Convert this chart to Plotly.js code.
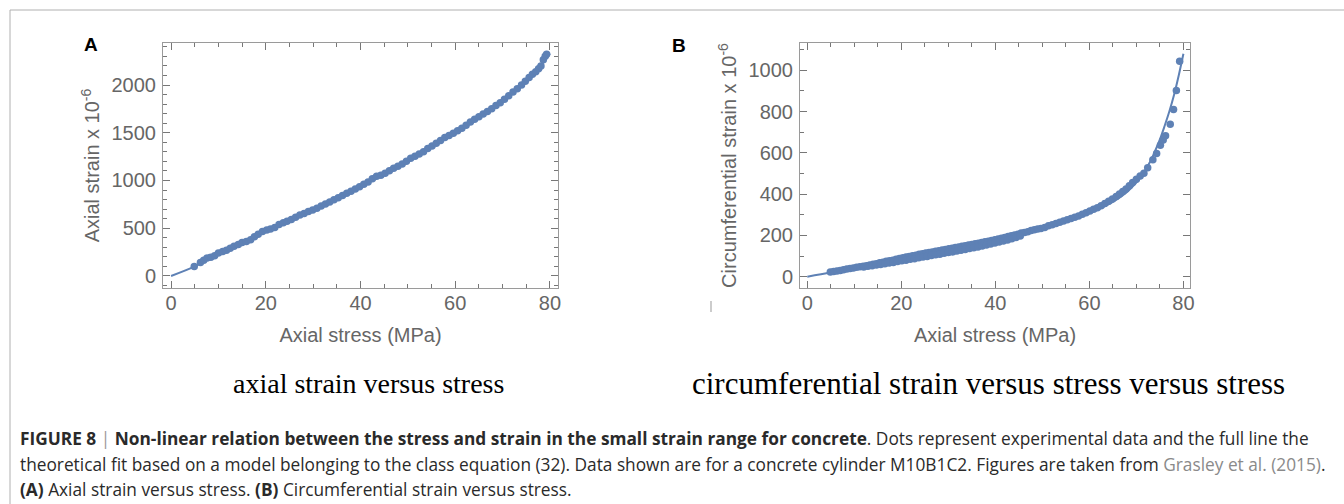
<!DOCTYPE html>
<html>
<head>
<meta charset="utf-8">
<script src="https://cdn.plot.ly/plotly-3.0.1.min.js"></script>
<style>html,body{margin:0;padding:0;background:#fff;}#chart{width:1344px;height:504px;}</style>
</head>
<body>
<div id="chart"></div>
<script>
// ---- Panel A: axial strain vs axial stress ----
const stressA = [4.9, 6.2, 6.9, 7.6, 8.4, 9.2, 10.0, 10.9, 11.7, 12.5, 13.3, 14.2, 15.0, 15.9, 16.8, 17.6, 18.4, 19.3, 20.2, 21.0, 21.9, 22.8, 23.7, 24.5, 25.4, 26.3, 27.2, 28.1, 29.0, 29.9, 30.8, 31.7, 32.6, 33.5, 34.4, 35.3, 36.2, 37.1, 38.0, 38.9, 39.8, 40.7, 41.6, 42.5, 43.4, 44.3, 45.2, 46.1, 47.0, 47.9, 48.8, 49.7, 50.6, 51.5, 52.4, 53.3, 54.2, 55.1, 56.0, 56.9, 57.8, 58.7, 59.6, 60.5, 61.4, 62.3, 63.2, 64.1, 65.0, 65.9, 66.8, 67.7, 68.6, 69.5, 70.4, 71.3, 72.2, 73.1, 74.0, 74.8, 75.6, 76.3, 77.0, 77.6, 78.1, 78.6, 79.0, 79.3];
const strainA = [98, 140, 165, 188, 196, 212, 240, 255, 270, 290, 310, 330, 350, 362, 380, 410, 438, 465, 482, 492, 508, 538, 558, 572, 592, 616, 639, 655, 674, 690, 708, 732, 754, 776, 798, 820, 843, 866, 888, 910, 934, 960, 985, 1018, 1045, 1055, 1075, 1102, 1128, 1150, 1172, 1202, 1232, 1255, 1278, 1302, 1335, 1362, 1390, 1420, 1450, 1470, 1494, 1520, 1548, 1578, 1612, 1642, 1668, 1696, 1722, 1752, 1785, 1815, 1850, 1888, 1926, 1962, 2000, 2040, 2078, 2112, 2140, 2170, 2200, 2265, 2300, 2321];
const fitStressA = [0, 5, 10, 15, 20, 25, 30, 35, 40, 45, 50, 55, 60, 65, 70, 75, 78, 80];
const fitStrainA = [0, 100, 235, 350, 475, 585, 700, 815, 935, 1065, 1210, 1360, 1505, 1665, 1840, 2045, 2200, 2330];

// ---- Panel B: circumferential strain vs axial stress ----
const stressB = [4.9, 5.6, 6.3, 7.0, 7.7, 8.4, 9.1, 9.8, 10.5, 11.2, 11.9, 12.6, 13.3, 14.0, 14.7, 15.4, 16.1, 16.8, 17.5, 18.2, 18.9, 19.6, 20.3, 21.0, 21.7, 22.4, 23.1, 23.8, 24.5, 25.2, 25.9, 26.6, 27.3, 28.0, 28.7, 29.4, 30.1, 30.8, 31.5, 32.2, 32.9, 33.6, 34.3, 35.0, 35.7, 36.4, 37.1, 37.8, 38.5, 39.2, 39.9, 40.6, 41.3, 42.0, 42.7, 43.4, 44.1, 44.8, 45.5, 46.2, 46.9, 47.6, 48.3, 49.0, 49.7,
  12.0, 12.9, 13.8, 14.7, 15.6, 16.5, 17.4, 18.3, 19.2, 20.1, 21.0, 21.9, 22.8, 23.7, 24.6, 25.5, 26.4, 27.3, 28.2, 29.1, 30.0, 30.9, 31.8, 32.7, 33.6, 34.5, 35.4, 36.3, 37.2, 38.1, 39.0, 39.9, 40.8, 41.7, 42.6, 43.5, 44.4, 45.3,
  50.5, 51.3, 52.1, 52.9, 53.7, 54.5, 55.3, 56.1, 56.9, 57.7, 58.5, 59.3, 60.1, 60.9, 61.7, 62.5, 63.3, 64.1, 64.9, 65.7, 66.4, 67.1, 67.8, 68.5, 69.2, 70.0, 70.8, 71.6, 72.4, 73.5, 74.3, 75.1, 75.7, 76.2, 77.2, 77.9, 78.5, 79.2];
const strainB = [23, 25, 27, 30, 34, 37, 40, 42, 45, 48, 50, 53, 56, 60, 63, 67, 70, 74, 77, 80, 84, 88, 91, 95, 98, 101, 104, 108, 111, 114, 117, 120, 123, 126, 129, 132, 135, 138, 141, 144, 147, 150, 153, 156, 159, 162, 166, 169, 172, 175, 179, 183, 186, 190, 194, 198, 202, 206, 211, 214, 218, 223, 227, 231, 233,
  47, 50, 53, 56, 59, 63, 66, 69, 73, 77, 80, 84, 87, 91, 95, 98, 102, 106, 109, 113, 117, 120, 124, 128, 132, 136, 140, 144, 148, 153, 158, 163, 168, 173, 178, 184, 190, 197,
  238, 247, 252, 258, 264, 270, 276, 282, 288, 294, 302, 310, 318, 326, 334, 344, 354, 365, 376, 388, 400, 412, 425, 440, 456, 472, 488, 501, 528, 566, 597, 637, 662, 683, 738, 810, 902, 1044];
const fitStressB = [0, 5, 10, 15, 20, 25, 30, 35, 40, 45, 50, 55, 60, 63, 65, 67, 69, 71, 72, 73, 74, 75, 76, 77, 78, 79, 80];
const fitStrainB = [0, 20, 42, 63, 86, 110, 133, 156, 180, 206, 235, 268, 308, 338, 362, 392, 432, 485, 520, 560, 610, 665, 730, 800, 880, 975, 1080];

const ticksX = [0, 20, 40, 60, 80];
const ticksYA = [0, 500, 1000, 1500, 2000];
const ticksYB = [0, 200, 400, 600, 800, 1000];

const blue = '#5E81B5';
const gray = '#666666';
const tickFont = {family: 'Liberation Sans, Arial, sans-serif', size: 20, color: gray};
const titleFont = {family: 'Liberation Sans, Arial, sans-serif', size: 20, color: gray};
const capFont = {family: 'Open Sans, Liberation Sans, sans-serif', size: 17.3, color: '#2a2a2a'};

function axisBase(extra) {
  return Object.assign({
    showgrid: false, zeroline: false, showline: true, linecolor: '#9a9a9a', linewidth: 1,
    mirror: 'allticks', ticks: 'inside', ticklen: 7, tickwidth: 1, tickcolor: '#777',
    tickfont: tickFont, automargin: false
  }, extra);
}
function minorTicks(d) {
  return {ticks: 'inside', ticklen: 4, tickwidth: 1, tickcolor: '#777', showgrid: false, dtick: d, tick0: 0};
}

const traces = [
  {x: fitStressA, y: fitStrainA, type: 'scatter', mode: 'lines', line: {color: blue, width: 2, shape: 'spline'}, xaxis: 'x', yaxis: 'y', hoverinfo: 'skip'},
  {x: stressA, y: strainA, type: 'scatter', mode: 'markers', marker: {color: blue, size: 7.5}, xaxis: 'x', yaxis: 'y'},
  {x: fitStressB, y: fitStrainB, type: 'scatter', mode: 'lines', line: {color: blue, width: 2, shape: 'spline'}, xaxis: 'x2', yaxis: 'y2', hoverinfo: 'skip'},
  {x: stressB, y: strainB, type: 'scatter', mode: 'markers', marker: {color: blue, size: 7.5}, xaxis: 'x2', yaxis: 'y2'}
];

const yTop = 1 - 43 / 504, yBot = 1 - 288 / 504;

const layout = {
  width: 1344, height: 504,
  margin: {l: 0, r: 0, t: 0, b: 0},
  paper_bgcolor: '#ffffff', plot_bgcolor: '#ffffff',
  showlegend: false,
  xaxis: axisBase({domain: [163 / 1344, 558 / 1344], range: [-1.7, 81.7], tickvals: ticksX, ticktext: ticksX.map(String),
    minor: minorTicks(5), ticklabelstandoff: -3,
    title: {text: 'Axial stress (MPa)', font: titleFont, standoff: 14}, anchor: 'y'}),
  yaxis: axisBase({domain: [yBot, yTop], range: [-126, 2440], tickvals: ticksYA, ticktext: ticksYA.map(String),
    minor: minorTicks(100), ticklabelstandoff: 2,
    title: {text: 'Axial strain x 10<sup>-6</sup>', font: titleFont, standoff: 6}, anchor: 'x'}),
  xaxis2: axisBase({domain: [800 / 1344, 1190 / 1344], range: [-1.55, 81.4], tickvals: ticksX, ticktext: ticksX.map(String),
    minor: minorTicks(5), ticklabelstandoff: -3,
    title: {text: 'Axial stress (MPa)', font: titleFont, standoff: 14}, anchor: 'y2'}),
  yaxis2: axisBase({domain: [yBot, yTop], range: [-55, 1132], tickvals: ticksYB, ticktext: ticksYB.map(String),
    minor: minorTicks(100), ticklabelstandoff: 2,
    title: {text: 'Circumferential strain x 10<sup>-6</sup>', font: titleFont, standoff: 6}, anchor: 'x2'}),
  shapes: [
    {type: 'line', xref: 'paper', yref: 'paper', x0: 10 / 1344, x1: 1, y0: 1 - 10 / 504, y1: 1 - 10 / 504, line: {color: '#b0b0b0', width: 1}},
    {type: 'line', xref: 'paper', yref: 'paper', x0: 10 / 1344, x1: 10 / 1344, y0: 0, y1: 1 - 10 / 504, line: {color: '#b0b0b0', width: 1}},
    {type: 'line', xref: 'paper', yref: 'paper', x0: 711 / 1344, x1: 711 / 1344, y0: 1 - 301 / 504, y1: 1 - 312 / 504, line: {color: '#999', width: 1}}
  ],
  annotations: [
    {text: '<b>A</b>', xref: 'paper', yref: 'paper', x: 91 / 1344, y: 1 - 44 / 504, xanchor: 'center', yanchor: 'middle', showarrow: false,
      font: {family: 'Liberation Sans, Arial, sans-serif', size: 19, color: '#000'}},
    {text: '<b>B</b>', xref: 'paper', yref: 'paper', x: 679 / 1344, y: 1 - 45 / 504, xanchor: 'center', yanchor: 'middle', showarrow: false,
      font: {family: 'Liberation Sans, Arial, sans-serif', size: 19, color: '#000'}},
    {text: 'axial strain versus stress', xref: 'paper', yref: 'paper', x: 368 / 1344, y: 1 - 383 / 504, xanchor: 'center', yanchor: 'middle', showarrow: false,
      font: {family: 'Liberation Serif, Times New Roman, serif', size: 28, color: '#000'}},
    {text: 'circumferential strain versus stress versus stress', xref: 'paper', yref: 'paper', x: 988 / 1344, y: 1 - 383 / 504, xanchor: 'center', yanchor: 'middle', showarrow: false,
      font: {family: 'Liberation Serif, Times New Roman, serif', size: 31, color: '#000'}},
    {text: '<b>FIGURE 8</b> <span style="color:#999">|</span> <b>Non-linear relation between the stress and strain in the small strain range for concrete</b>. Dots represent experimental data and the full line the',
      xref: 'paper', yref: 'paper', x: 18 / 1344, y: 1 - 438 / 504, xanchor: 'left', yanchor: 'middle', showarrow: false, align: 'left', font: capFont},
    {text: 'theoretical fit based on a model belonging to the class equation (32). Data shown are for a concrete cylinder M10B1C2. Figures are taken from <span style="color:#8a8a8a">Grasley et al. (2015)</span>.',
      xref: 'paper', yref: 'paper', x: 18 / 1344, y: 1 - 464 / 504, xanchor: 'left', yanchor: 'middle', showarrow: false, align: 'left', font: capFont},
    {text: '<b>(A)</b> Axial strain versus stress. <b>(B)</b> Circumferential strain versus stress.',
      xref: 'paper', yref: 'paper', x: 18 / 1344, y: 1 - 489 / 504, xanchor: 'left', yanchor: 'middle', showarrow: false, align: 'left', font: capFont}
  ]
};

Plotly.newPlot('chart', traces, layout, {staticPlot: true, displayModeBar: false});
</script>
</body>
</html>
